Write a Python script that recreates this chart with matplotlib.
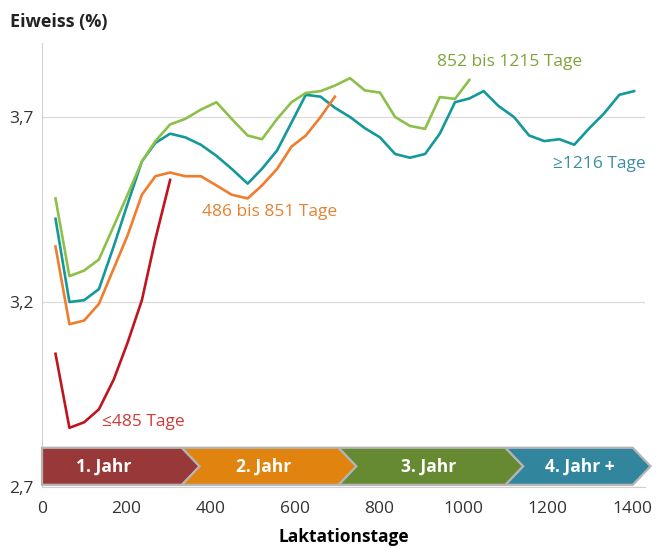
import matplotlib.pyplot as plt
from matplotlib.patches import Polygon

plt.rcParams['font.family'] = ['Open Sans', 'DejaVu Sans']

# Laktationstage (x positions of the measured points)
days = [32, 65, 100, 135, 170, 203, 237, 269, 304, 340, 377, 414, 450, 488,
        522, 558, 592, 626, 661, 695, 731, 766, 802, 838, 873, 909, 944, 980,
        1014, 1048, 1083, 1120, 1156, 1192, 1228, 1263, 1299, 1334, 1370, 1405]

# Eiweiss (%) per group of lactation length
prot_485 = [3.06, 2.86, 2.875, 2.91, 2.99, 3.09, 3.205, 3.37, 3.53]
prot_851 = [3.35, 3.14, 3.15, 3.195, 3.29, 3.38, 3.49, 3.54, 3.55, 3.54,
            3.54, 3.515, 3.49, 3.48, 3.515, 3.56, 3.62, 3.65, 3.70, 3.755]
prot_1215 = [3.48, 3.27, 3.285, 3.315, 3.405, 3.49, 3.58, 3.635, 3.68, 3.695,
             3.72, 3.74, 3.695, 3.65, 3.64, 3.695, 3.74, 3.765, 3.77, 3.785,
             3.805, 3.772, 3.766, 3.70, 3.676, 3.668, 3.754, 3.749, 3.80]
prot_1216 = [3.425, 3.20, 3.205, 3.235, 3.35, 3.465, 3.58, 3.63, 3.655, 3.645,
             3.625, 3.595, 3.56, 3.52, 3.56, 3.61, 3.685, 3.76, 3.755, 3.725,
             3.70, 3.67, 3.645, 3.60, 3.59, 3.60, 3.655, 3.74, 3.75, 3.77,
             3.73, 3.70, 3.65, 3.635, 3.64, 3.625, 3.67, 3.71, 3.76, 3.77]

# Year band at the bottom
year_labels = ["1. Jahr", "2. Jahr", "3. Jahr", "4. Jahr +"]
year_edges = [0, 353, 725, 1121, 1423]
year_colors = ["#983838", "#E0830F", "#658A32", "#31869D"]
year_label_x = [147, 527, 918, 1277]

FS = 12.5

fig = plt.figure(figsize=(6.66, 5.48), dpi=100)
ax = fig.add_axes([0.0631, 0.1113, 0.9054, 0.8102])

ax.plot(days[:len(prot_1216)], prot_1216, color="#14989A", lw=1.9)
ax.plot(days[:len(prot_1215)], prot_1215, color="#8DC04A", lw=1.9)
ax.plot(days[:len(prot_851)], prot_851, color="#EF7D2D", lw=1.9)
ax.plot(days[:len(prot_485)], prot_485, color="#C0141E", lw=1.9)

# Series labels
ax.text(937, 3.848, "852 bis 1215 Tage", color="#7FA33B", fontsize=FS,
        va="center", ha="left")
ax.text(1212, 3.574, "≥1216 Tage", color="#3C8EA6", fontsize=FS,
        va="center", ha="left")
ax.text(379, 3.443, "486 bis 851 Tage", color="#E8812F", fontsize=FS,
        va="center", ha="left")
ax.text(142, 2.876, "≤485 Tage", color="#D03A3A", fontsize=FS,
        va="center", ha="left")

# Chevron band
lo, hi = 2.706, 2.806
mid = (lo + hi) / 2
d = 21
for i, (lab, col) in enumerate(zip(year_labels, year_colors)):
    x0, x1 = year_edges[i], year_edges[i + 1]
    if i == 0:
        left = [(x0, lo), (x0, hi)]
    else:
        left = [(x0 - d, lo), (x0 + d, mid), (x0 - d, hi)]
    right = [(x1 - d, hi), (x1 + d, mid), (x1 - d, lo)]
    poly = Polygon(left + right, closed=True, facecolor=col,
                   edgecolor="#B4B4B4", lw=1.6, clip_on=False, zorder=5)
    ax.add_patch(poly)
    ax.text(year_label_x[i], mid, lab, color="white", fontsize=FS,
            fontweight="bold", ha="center", va="center", zorder=6)

ax.set_xlim(0, 1431)
ax.set_ylim(2.7, 3.9)
ax.set_xticks([0, 200, 400, 600, 800, 1000, 1200, 1400])
ax.set_yticks([2.7, 3.2, 3.7])
ax.set_yticklabels(["2,7", "3,2", "3,7"])
ax.tick_params(length=0, labelsize=FS, labelcolor="#333333")
ax.tick_params(axis="x", pad=10)
ax.tick_params(axis="y", pad=6)
ax.grid(axis="y", color="#DDDDDD", lw=1)
ax.set_axisbelow(True)
for s in ["top", "right"]:
    ax.spines[s].set_visible(False)
ax.spines["left"].set_color("#D0D0D0")
ax.spines["bottom"].set_color("#D0D0D0")

ax.set_xlabel("Laktationstage", fontsize=FS, fontweight="bold", labelpad=8)
fig.text(0.015, 1 - 22.3 / 548, "Eiweiss (%)", fontsize=13,
         fontweight="bold", va="center", ha="left", color="#222222")

fig.savefig("out.png", dpi=100)
